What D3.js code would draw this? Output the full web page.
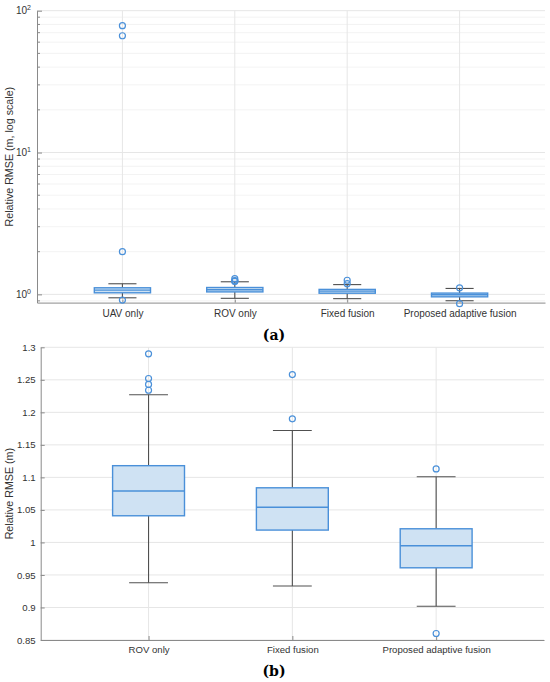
<!DOCTYPE html>
<html><head><meta charset="utf-8">
<script src="https://cdn.jsdelivr.net/npm/d3@7"></script>
<style>body{margin:0;background:#fff}svg{display:block}</style>
</head><body>
<svg id="c" width="550" height="682"></svg>
<script>
// ---- Data: panel (a), log scale ----
const categoriesA = ["UAV only","ROV only","Fixed fusion","Proposed adaptive fusion"];
const whiskerLowA  = [0.946, 0.938, 0.933, 0.902];
const q1A          = [1.026, 1.041, 1.019, 0.961];
const medianA      = [1.072, 1.079, 1.054, 0.995];
const q3A          = [1.113, 1.118, 1.084, 1.021];
const whiskerHighA = [1.188, 1.227, 1.172, 1.101];
const outliersA    = [[0.911, 2.0, 66.6, 78.4], [1.234, 1.243, 1.252, 1.290], [1.190, 1.258], [0.860, 1.113]];
const yTicksA = [1, 10, 100];
const yTickExpA = ["0", "1", "2"];

// ---- Data: panel (b), linear scale ----
const categoriesB = ["ROV only","Fixed fusion","Proposed adaptive fusion"];
const whiskerLowB  = [0.938, 0.933, 0.902];
const q1B          = [1.041, 1.019, 0.961];
const medianB      = [1.079, 1.054, 0.995];
const q3B          = [1.118, 1.084, 1.021];
const whiskerHighB = [1.227, 1.172, 1.101];
const outliersB    = [[1.234, 1.243, 1.252, 1.290], [1.190, 1.258], [0.860, 1.113]];
const yTicksB = [0.85, 0.9, 0.95, 1, 1.05, 1.1, 1.15, 1.2, 1.25, 1.3];
const yTickLabelsB = ["0.85","0.9","0.95","1","1.05","1.1","1.15","1.2","1.25","1.3"];

const svg = d3.select("#c");
const FONT = "'Liberation Sans', Arial, Helvetica, sans-serif";
const BLUE = "#4a90d9", FILL = "#cfe2f3", WHISK = "#505050", AXIS = "#8a8a8a", GRID = "#e6e6e6", MINOR = "#f0f0f0";

function drawBoxes(g, x, y, n, lo, q1, md, q3, hi, outs, bw, cw) {
  for (let i = 0; i < n; i++) {
    const cx = x(i + 1);
    const pxw = x(1 + bw) - x(1), pcw = x(1 + cw) - x(1);
    g.append("line").attr("x1", cx).attr("x2", cx).attr("y1", y(hi[i])).attr("y2", y(q3[i]))
      .attr("stroke", WHISK).attr("stroke-width", 1.1);
    g.append("line").attr("x1", cx).attr("x2", cx).attr("y1", y(q1[i])).attr("y2", y(lo[i]))
      .attr("stroke", WHISK).attr("stroke-width", 1.1);
    [hi[i], lo[i]].forEach(v => g.append("line").attr("x1", cx - pcw / 2).attr("x2", cx + pcw / 2)
      .attr("y1", y(v)).attr("y2", y(v)).attr("stroke", WHISK).attr("stroke-width", 1.1));
    g.append("rect").attr("x", cx - pxw / 2).attr("width", pxw)
      .attr("y", y(q3[i])).attr("height", y(q1[i]) - y(q3[i]))
      .attr("fill", FILL).attr("stroke", BLUE).attr("stroke-width", 1.4);
    g.append("line").attr("x1", cx - pxw / 2).attr("x2", cx + pxw / 2)
      .attr("y1", y(md[i])).attr("y2", y(md[i])).attr("stroke", BLUE).attr("stroke-width", 1.4);
    outs[i].forEach(v => g.append("circle").attr("cx", cx).attr("cy", y(v)).attr("r", 3)
      .attr("fill", "none").attr("stroke", BLUE).attr("stroke-width", 1.2));
  }
}

// ---------- Panel (a) ----------
{
  const L = 37, R = 545, T = 10.7, B = 302.6;
  const x = d3.scaleLinear().domain([0.24, 4.76]).range([L, R]);
  const y = d3.scaleLog().domain([0.875, 100]).range([B, T]);
  const g = svg.append("g");
  const minor = [0.9, 2, 3, 4, 5, 6, 7, 8, 9, 20, 30, 40, 50, 60, 70, 80, 90];
  minor.forEach(v => g.append("line").attr("x1", L).attr("x2", R).attr("y1", y(v)).attr("y2", y(v))
    .attr("stroke", MINOR).attr("stroke-width", 0.8));
  yTicksA.forEach(v => g.append("line").attr("x1", L).attr("x2", R).attr("y1", y(v)).attr("y2", y(v))
    .attr("stroke", GRID).attr("stroke-width", 1));
  categoriesA.forEach((c, i) => g.append("line").attr("x1", x(i + 1)).attr("x2", x(i + 1))
    .attr("y1", T).attr("y2", B).attr("stroke", GRID).attr("stroke-width", 1));
  const ax = g.append("g").attr("transform", `translate(0,${B})`)
    .call(d3.axisBottom(x).tickValues(categoriesA.map((c, i) => i + 1)).tickFormat((d) => categoriesA[d - 1]).tickSizeInner(-3).tickSizeOuter(0).tickPadding(7));
  ax.select(".domain").attr("stroke", AXIS);
  ax.selectAll(".tick line").attr("stroke", AXIS);
  ax.selectAll("text").attr("font-family", FONT).attr("font-size", "10px").attr("fill", "#333");
  const ay = g.append("g").attr("transform", `translate(${L},0)`)
    .call(d3.axisLeft(y).tickValues(yTicksA).tickFormat(() => "").tickSizeInner(-5).tickSizeOuter(0));
  ay.select(".domain").attr("stroke", AXIS);
  ay.selectAll(".tick line").attr("stroke", AXIS);
  minor.forEach(v => g.append("line").attr("x1", L).attr("x2", L + 3).attr("y1", y(v)).attr("y2", y(v)).attr("stroke", AXIS));
  yTicksA.forEach((v, i) => {
    const t = g.append("text").attr("x", L - 6).attr("y", y(v) + 3.5).attr("text-anchor", "end")
      .attr("font-family", FONT).attr("font-size", "10px").attr("fill", "#333");
    t.append("tspan").text("10");
    t.append("tspan").attr("dy", -4).attr("font-size", "7px").text(yTickExpA[i]);
  });
  g.append("text").attr("transform", `translate(13,${(T + B) / 2}) rotate(-90)`).attr("text-anchor", "middle")
    .attr("font-family", FONT).attr("font-size", "10.7px").attr("fill", "#333").text("Relative RMSE (m, log scale)");
  drawBoxes(g, x, y, 4, whiskerLowA, q1A, medianA, q3A, whiskerHighA, outliersA, 0.5, 0.25);
  svg.append("text").attr("x", 274).attr("y", 340).attr("text-anchor", "middle")
    .attr("font-family", "'DejaVu Serif', 'Liberation Serif', serif").attr("font-weight", "bold").attr("font-size", "14px").attr("fill", "#000").text("(a)");
}

// ---------- Panel (b) ----------
{
  const L = 40.7, R = 544, T = 347.3, B = 640;
  const x = d3.scaleLinear().domain([0.25, 3.75]).range([L, R]);
  const y = d3.scaleLinear().domain([0.85, 1.3]).range([B, T]);
  const g = svg.append("g");
  yTicksB.forEach(v => g.append("line").attr("x1", L).attr("x2", R).attr("y1", y(v)).attr("y2", y(v))
    .attr("stroke", GRID).attr("stroke-width", 1));
  categoriesB.forEach((c, i) => g.append("line").attr("x1", x(i + 1)).attr("x2", x(i + 1))
    .attr("y1", T).attr("y2", B).attr("stroke", GRID).attr("stroke-width", 1));
  const ax = g.append("g").attr("transform", `translate(0,${B})`)
    .call(d3.axisBottom(x).tickValues(categoriesB.map((c, i) => i + 1)).tickFormat((d) => categoriesB[d - 1]).tickSizeInner(-4).tickSizeOuter(0).tickPadding(6));
  ax.select(".domain").attr("stroke", AXIS);
  ax.selectAll(".tick line").attr("stroke", AXIS);
  ax.selectAll("text").attr("font-family", FONT).attr("font-size", "9.6px").attr("fill", "#333");
  const ay = g.append("g").attr("transform", `translate(${L},0)`)
    .call(d3.axisLeft(y).tickValues(yTicksB).tickFormat((d, i) => yTickLabelsB[i]).tickSizeInner(-4).tickSizeOuter(0).tickPadding(5));
  ay.select(".domain").attr("stroke", AXIS);
  ay.selectAll(".tick line").attr("stroke", AXIS);
  ay.selectAll("text").attr("font-family", FONT).attr("font-size", "9.6px").attr("fill", "#333");
  g.append("text").attr("transform", `translate(13,${(T + B) / 2}) rotate(-90)`).attr("text-anchor", "middle")
    .attr("font-family", FONT).attr("font-size", "10.7px").attr("fill", "#333").text("Relative RMSE (m)");
  drawBoxes(g, x, y, 3, whiskerLowB, q1B, medianB, q3B, whiskerHighB, outliersB, 0.5, 0.27);
  svg.append("text").attr("x", 274).attr("y", 676).attr("text-anchor", "middle")
    .attr("font-family", "'DejaVu Serif', 'Liberation Serif', serif").attr("font-weight", "bold").attr("font-size", "14px").attr("fill", "#000").text("(b)");
}
</script>
</body></html>
